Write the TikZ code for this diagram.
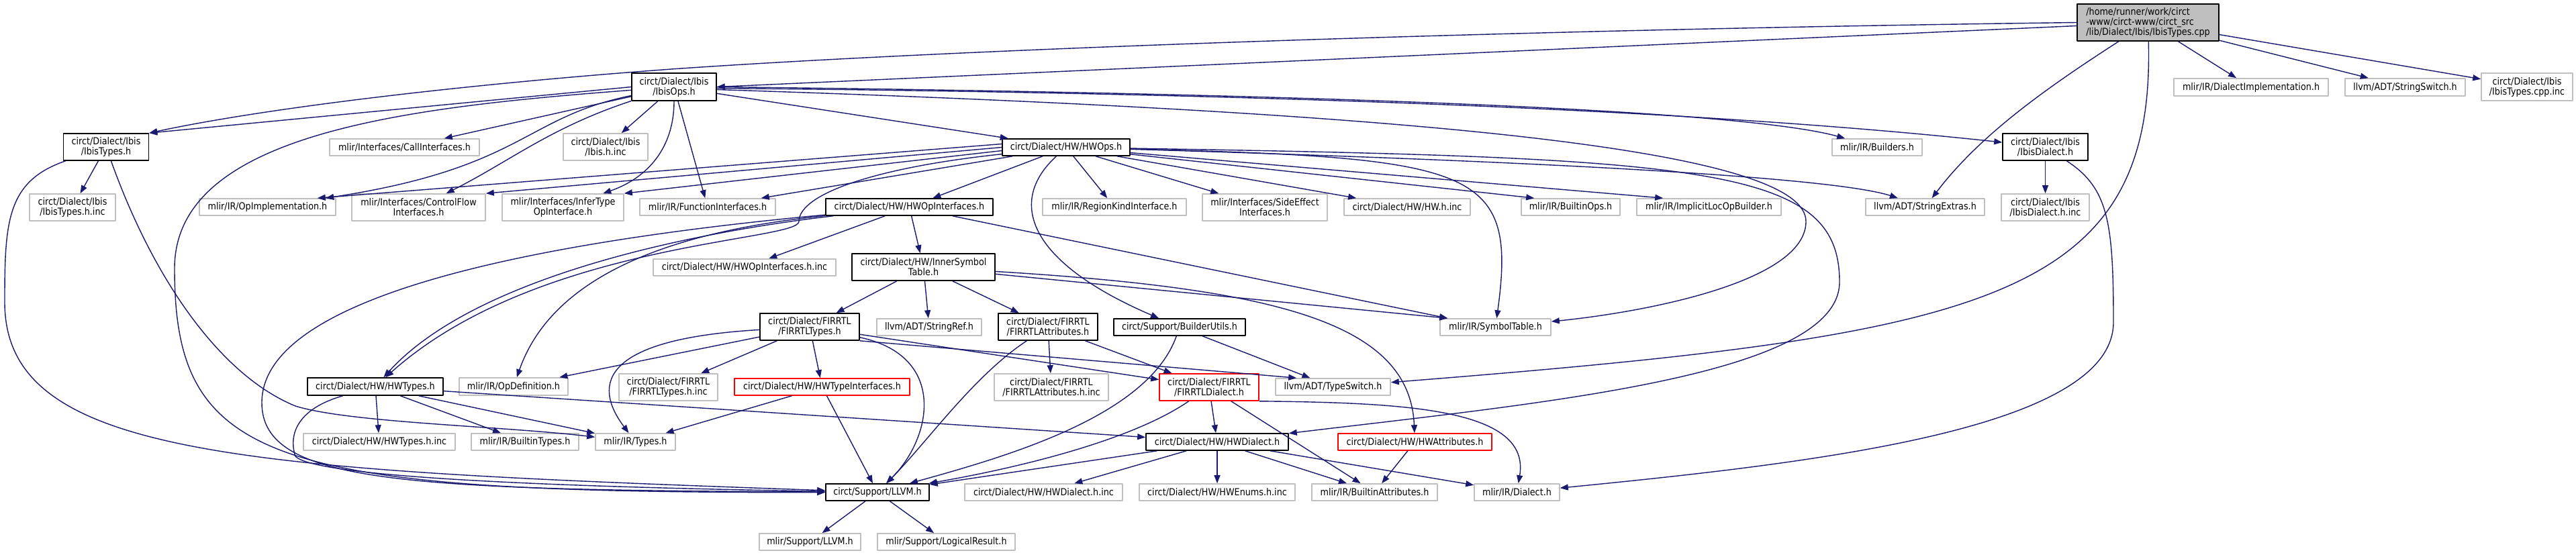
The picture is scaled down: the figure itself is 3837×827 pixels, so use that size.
\documentclass[tikz,border=0pt]{standalone}
\usepackage{fontspec}
\setmainfont{DejaVu Sans}[FakeStretch=0.88]
\usetikzlibrary{arrows.meta}
\definecolor{edgeblue}{HTML}{191970}
\definecolor{grey75}{HTML}{BFBFBF}

\begin{document}
\begin{tikzpicture}[x=1pt, y=-1pt, line join=round,
		font=\fontsize{14.5}{15}\selectfont,
		file/.style={rectangle, inner sep=0pt, align=center, line width=1.6pt, fill=white},
		inc/.style={file, draw=grey75},
		hdr/.style={file, draw=black},
		bad/.style={file, draw=red},
		sz/.style 2 args={minimum width=#1, minimum height=#2},
		dep/.style={draw=edgeblue, line width=1.4pt, -{Triangle[length=12pt,width=9pt]}}
	]
	\fill[white] (0,0) rectangle (3837,827);
	\useasboundingbox (0,0) rectangle (3837,827);
	
	% Tệp gốc
	\node[file, draw=black, fill=grey75, align=left, sz={211}{55}] (root) at (3199.5,33.5)
	{/home/runner/work/circt\\-www/circt-www/circt\_src\\/lib/Dialect/Ibis/IbisTypes.cpp};
	
	% Hàng 1
	\node[hdr, sz={126}{41}] (ibisOps) at (1004,129.5) {circt/Dialect/Ibis\\/IbisOps.h};
	\node[inc, sz={230}{26}] (dialectImpl) at (3353,130) {mlir/IR/DialectImplementation.h};
	\node[inc, sz={179}{26}] (strSwitch) at (3582.5,130) {llvm/ADT/StringSwitch.h};
	\node[inc, sz={136}{41}] (ibisTypesCppInc) at (3764,129.5) {circt/Dialect/Ibis\\/IbisTypes.cpp.inc};
	
	% Hàng 2
	\node[hdr, sz={127}{40}] (ibisTypesH) at (158,219) {circt/Dialect/Ibis\\/IbisTypes.h};
	\node[inc, sz={223}{25}] (callIf) at (602.5,219.5) {mlir/Interfaces/CallInterfaces.h};
	\node[inc, sz={126}{40}] (ibisInc) at (902,219) {circt/Dialect/Ibis\\/Ibis.h.inc};
	\node[hdr, sz={190}{25}] (hwOps) at (1588,219.5) {circt/Dialect/HW/HWOps.h};
	\node[inc, sz={134}{25}] (builders) at (2796,219.5) {mlir/IR/Builders.h};
	\node[hdr, sz={127}{40}] (ibisDialect) at (3046.5,219) {circt/Dialect/Ibis\\/IbisDialect.h};
	
	% Hàng 3
	\node[inc, sz={128}{40}] (ibisTypesInc) at (108,309) {circt/Dialect/Ibis\\/IbisTypes.h.inc};
	\node[inc, sz={203}{25}] (opImpl) at (398.5,308.5) {mlir/IR/OpImplementation.h};
	\node[inc, sz={199}{40}] (cfIf) at (623.5,309) {mlir/Interfaces/ControlFlow\\Interfaces.h};
	\node[inc, sz={181}{40}] (inferIf) at (838.5,309) {mlir/Interfaces/InferType\\OpInterface.h};
	\node[inc, sz={202}{25}] (funcIf) at (1054,308.5) {mlir/IR/FunctionInterfaces.h};
	\node[hdr, sz={249}{25}] (hwOpIf) at (1354.5,308.5) {circt/Dialect/HW/HWOpInterfaces.h};
	\node[inc, sz={214}{25}] (regionKind) at (1660,308.5) {mlir/IR/RegionKindInterface.h};
	\node[inc, sz={186}{40}] (sideEff) at (1884,309) {mlir/Interfaces/SideEffect\\Interfaces.h};
	\node[inc, sz={188}{25}] (hwInc) at (2096,308.5) {circt/Dialect/HW/HW.h.inc};
	\node[inc, sz={147}{25}] (builtinOps) at (2339.5,308.5) {mlir/IR/BuiltinOps.h};
	\node[inc, sz={215}{25}] (implicitLoc) at (2545.5,308.5) {mlir/IR/ImplicitLocOpBuilder.h};
	\node[inc, sz={177}{25}] (strExtras) at (2867.5,308.5) {llvm/ADT/StringExtras.h};
	\node[inc, sz={131}{40}] (ibisDialectInc) at (3046.5,309) {circt/Dialect/Ibis\\/IbisDialect.h.inc};
	
	% Hàng 4
	\node[inc, sz={272}{25}] (hwOpIfInc) at (1109,398.5) {circt/Dialect/HW/HWOpInterfaces.h.inc};
	\node[hdr, sz={213}{40}] (innerSym) at (1375.5,398) {circt/Dialect/HW/InnerSymbol\\Table.h};
	
	% Hàng 5
	\node[hdr, sz={148}{40}] (firTypes) at (1206,487) {circt/Dialect/FIRRTL\\/FIRRTLTypes.h};
	\node[inc, sz={156}{25}] (strRef) at (1384,487.5) {llvm/ADT/StringRef.h};
	\node[hdr, sz={148}{40}] (firAttrs) at (1561,487) {circt/Dialect/FIRRTL\\/FIRRTLAttributes.h};
	\node[hdr, sz={196}{25}] (builderUtils) at (1757,487.5) {circt/Support/BuilderUtils.h};
	\node[inc, sz={165}{25}] (symbolTable) at (2227.5,487.5) {mlir/IR/SymbolTable.h};
	
	% Hàng 6
	\node[hdr, sz={202}{26}] (hwTypes) at (559,576) {circt/Dialect/HW/HWTypes.h};
	\node[inc, sz={162}{26}] (opDef) at (765,576) {mlir/IR/OpDefinition.h};
	\node[inc, sz={147}{40}] (firTypesInc) at (995.5,577) {circt/Dialect/FIRRTL\\/FIRRTLTypes.h.inc};
	\node[bad, sz={261}{25}] (hwTypeIf) at (1224.5,576.5) {circt/Dialect/HW/HWTypeInterfaces.h};
	\node[inc, sz={170}{40}] (firAttrsInc) at (1566,577) {circt/Dialect/FIRRTL\\/FIRRTLAttributes.h.inc};
	\node[bad, sz={148}{40}] (firDialect) at (1801,577) {circt/Dialect/FIRRTL\\/FIRRTLDialect.h};
	\node[inc, sz={171}{25}] (typeSwitch) at (1985.5,576.5) {llvm/ADT/TypeSwitch.h};
	
	% Hàng 7
	\node[inc, sz={226}{25}] (hwTypesInc) at (565,658.5) {circt/Dialect/HW/HWTypes.h.inc};
	\node[inc, sz={160}{25}] (builtinTypes) at (782,658.5) {mlir/IR/BuiltinTypes.h};
	\node[inc, sz={119}{25}] (types) at (946.5,658.5) {mlir/IR/Types.h};
	\node[hdr, sz={212}{25}] (hwDialect) at (1813,658.5) {circt/Dialect/HW/HWDialect.h};
	\node[bad, sz={229}{25}] (hwAttrs) at (2107.5,658.5) {circt/Dialect/HW/HWAttributes.h};
	
	% Hàng 8, 9
	\node[hdr, sz={154}{25}] (llvm) at (1307,733.5) {circt/Support/LLVM.h};
	\node[inc, sz={235}{25}] (hwDialectInc) at (1554.5,733.5) {circt/Dialect/HW/HWDialect.h.inc};
	\node[inc, sz={232}{25}] (hwEnumsInc) at (1813,733.5) {circt/Dialect/HW/HWEnums.h.inc};
	\node[inc, sz={187}{25}] (builtinAttrs) at (2047.5,733.5) {mlir/IR/BuiltinAttributes.h};
	\node[inc, sz={127}{25}] (dialect) at (2259.5,733.5) {mlir/IR/Dialect.h};
	\node[inc, sz={151}{25}] (mlirLLVM) at (1206.5,807.5) {mlir/Support/LLVM.h};
	\node[inc, sz={205}{25}] (logicalResult) at (1409.5,807.5) {mlir/Support/LogicalResult.h};
	
	% Cạnh thẳng
	\foreach \a/\b in {
		root/dialectImpl, root/strSwitch, root/ibisTypesCppInc,
		ibisOps/ibisInc, ibisOps/funcIf, ibisOps/hwOps, ibisOps/callIf,
		ibisTypesH/ibisTypesInc,
		hwOps/funcIf, hwOps/hwOpIf, hwOps/regionKind, hwOps/sideEff, hwOps/hwInc,
		hwOpIf/hwOpIfInc, hwOpIf/innerSym,
		innerSym/firTypes, innerSym/strRef, innerSym/firAttrs,
		firTypes/opDef, firTypes/firTypesInc, firTypes/hwTypeIf, firTypes/firDialect,
		firAttrs/firAttrsInc, firAttrs/firDialect,
		hwTypeIf/types, hwTypeIf/llvm,
		firDialect/hwDialect, firDialect/builtinAttrs,
		hwDialect/llvm, hwDialect/hwDialectInc, hwDialect/hwEnumsInc,
		hwDialect/builtinAttrs, hwDialect/dialect,
		hwAttrs/builtinAttrs, builderUtils/typeSwitch,
		hwTypes/hwTypesInc, hwTypes/builtinTypes, hwTypes/types, hwTypes/hwDialect,
		ibisDialect/ibisDialectInc, llvm/mlirLLVM, llvm/logicalResult}{
		\draw[dep] (\a) -- (\b);
	}
	\draw[dep] ([yshift=-5pt]root.west) -- (ibisOps.east);
	\draw[dep] (ibisOps.west) -- (ibisTypesH.north east);
	\draw[dep] ([yshift=5pt]hwOps.west) -- ([xshift=-28pt]opImpl.north east);
	\draw[dep] (hwOps.west) -- (cfIf.north east);
	\draw[dep] ([yshift=-5pt]hwOps.west) -- (inferIf.north east);
	\draw[dep] (hwOps) -- ([xshift=20pt]builtinOps.north west);
	\draw[dep] (hwOps) -- ([xshift=40pt]implicitLoc.north west);
	\draw[dep] (hwOpIf) -- ([xshift=12pt]symbolTable.north west);
	\draw[dep] (innerSym) -- ([xshift=12pt]symbolTable.north west);
	\draw[dep] (firTypes.south east) -- ([xshift=32pt]typeSwitch.north west);
	
	% Cạnh cong
	\draw[dep] (root.west) .. controls (2200,45) and (1400,75) .. (1000,103)
		.. controls (700,125) and (400,160) .. (ibisTypesH.north east);
	\draw[dep] (root) .. controls (3050,130) and (2950,200) .. (strExtras);
	\draw[dep] (root) .. controls (3210,450) and (2950,500) .. (typeSwitch);
	\draw[dep] (ibisOps) .. controls (1004,220) and (965,265) .. (inferIf);
	\draw[dep] ([yshift=-2pt]ibisOps.east) .. controls (1800,138) and (2500,160) .. (ibisDialect);
	\draw[dep] (ibisOps.east) .. controls (2000,140) and (2600,165) .. (builders);
	\draw[dep] ([yshift=-4pt]ibisOps.east) .. controls (2200,170) and (2690,230) .. (2690,330)
		.. controls (2690,420) and (2450,465) .. (symbolTable);
	\draw[dep] (ibisOps) .. controls (780,175) and (780,250) .. (opImpl);
	\draw[dep] (ibisOps) .. controls (820,190) and (760,240) .. (cfIf);
	\draw[dep] (ibisOps) .. controls (600,160) and (260,200) .. (260,400)
		.. controls (260,690) and (400,735) .. (llvm);
	\draw[dep] (ibisTypesH) .. controls (230,420) and (330,560) .. (440,605)
		.. controls (520,630) and (750,635) .. (types);
	\draw[dep] (ibisTypesH) .. controls (10,270) and (7,330) .. (7,450)
		.. controls (7,680) and (350,700) .. (llvm);
	\draw[dep] (hwOps) .. controls (1300,250) and (1190,290) .. (1190,330)
		.. controls (1190,360) and (800,360) .. (hwTypes);
	\draw[dep] (hwOps) .. controls (2200,235) and (2260,250) .. (symbolTable);
	\draw[dep] (hwOps) .. controls (2550,235) and (2740,250) .. (2740,420)
		.. controls (2740,560) and (2300,600) .. (hwDialect);
	\draw[dep] (hwOps) .. controls (1500,300) and (1530,390) .. (builderUtils);
	\draw[dep] (hwOps) .. controls (2450,245) and (2750,270) .. (strExtras);
	\draw[dep] (hwOpIf) .. controls (1000,350) and (700,420) .. (hwTypes);
	\draw[dep] (hwOpIf) .. controls (1050,340) and (830,390) .. (opDef);
	\draw[dep] (hwOpIf) .. controls (800,360) and (390,440) .. (390,600)
		.. controls (390,720) and (600,730) .. (llvm);
	\draw[dep] (hwTypes) .. controls (440,610) and (430,650) .. (440,680)
		.. controls (470,710) and (800,725) .. (llvm);
	\draw[dep] (innerSym) .. controls (1900,430) and (2100,480) .. (hwAttrs);
	\draw[dep] (firTypes) .. controls (900,505) and (880,570) .. (types);
	\draw[dep] (firTypes) .. controls (1410,530) and (1390,650) .. (llvm);
	\draw[dep] (firAttrs) .. controls (1450,560) and (1380,660) .. (llvm);
	\draw[dep] (firDialect) .. controls (1680,660) and (1500,700) .. (llvm);
	\draw[dep] (firDialect.south east) .. controls (2100,600) and (2280,610) .. (dialect);
	\draw[dep] (builderUtils) .. controls (1710,620) and (1500,680) .. (llvm);
	\draw[dep] (ibisDialect) .. controls (3140,280) and (3148,330) .. (3148,480)
		.. controls (3148,640) and (2700,690) .. (dialect);
\end{tikzpicture}
\end{document}
